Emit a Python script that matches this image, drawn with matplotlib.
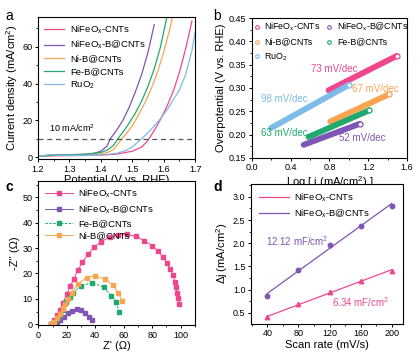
import matplotlib
matplotlib.use('Agg')
import matplotlib.pyplot as plt
import numpy as np
from matplotlib.lines import Line2D
from matplotlib.ticker import MultipleLocator

plt.rcParams['font.family'] = ['Liberation Sans', 'DejaVu Sans']
plt.rcParams['font.size'] = 6.5
plt.rcParams['axes.linewidth'] = 0.8
plt.rcParams['mathtext.default'] = 'regular'

PINK = '#f0468e'
PURPLE = '#7f55b5'
ORANGE = '#f9a451'
GREEN = '#1fa96c'
BLUE = '#7dbbe9'

# ---- panel a: LSV
v_nifeo = [1.20, 1.25, 1.30, 1.35, 1.40, 1.45, 1.50, 1.53, 1.55, 1.57, 1.59, 1.61, 1.63, 1.65, 1.67, 1.69]
j_nifeo = [0.5, 0.7, 0.8, 0.9, 1.1, 1.6, 3.2, 5.5, 9.0, 14.5, 20.5, 27.5, 35.5, 46.0, 59.0, 74.0]
v_nifeob = [1.20, 1.25, 1.30, 1.35, 1.38, 1.40, 1.42, 1.43, 1.45, 1.47, 1.49, 1.51, 1.53, 1.55, 1.57]
j_nifeob = [0.5, 1.2, 1.3, 1.6, 2.1, 3.2, 6.0, 10.0, 14.5, 20.0, 27.0, 35.5, 45.0, 57.0, 72.0]
v_nib = [1.20, 1.25, 1.30, 1.35, 1.40, 1.42, 1.44, 1.467, 1.48, 1.50, 1.52, 1.54, 1.56, 1.58, 1.60, 1.62, 1.63]
j_nib = [0.5, 0.8, 1.0, 1.2, 1.7, 2.5, 4.0, 10.0, 12.5, 17.0, 23.0, 29.5, 37.0, 46.0, 57.0, 70.0, 78.0]
v_feb = [1.20, 1.25, 1.30, 1.35, 1.40, 1.42, 1.44, 1.454, 1.47, 1.49, 1.51, 1.53, 1.55, 1.57, 1.59, 1.61]
j_feb = [0.5, 1.0, 1.2, 1.5, 2.5, 3.8, 6.3, 10.0, 13.5, 18.5, 24.0, 30.5, 38.5, 48.0, 60.0, 76.0]
v_ruo2 = [1.20, 1.24, 1.27, 1.30, 1.35, 1.40, 1.45, 1.48, 1.50, 1.53, 1.56, 1.59, 1.61, 1.63, 1.65, 1.67, 1.69, 1.70]
j_ruo2 = [0.5, 1.4, 0.9, 0.9, 1.0, 1.2, 2.0, 3.6, 5.5, 10.0, 15.0, 21.0, 25.5, 31.0, 36.5, 45.0, 58.0, 68.0]

# ---- panel b: Tafel (start, end)
tafel_names = ['NiFeO$_x$-CNTs', 'NiFeO$_x$-B@CNTs', 'Ni-B@CNTs', 'Fe-B@CNTs', 'RuO$_2$']
tafel_x = [[0.79, 1.496], [0.533, 1.11], [0.808, 1.41], [0.584, 1.21], [0.196, 1.004]]
tafel_y = [[0.295, 0.369], [0.178, 0.223], [0.228, 0.286], [0.195, 0.252], [0.214, 0.307]]
tafel_lbl = ['73 mV/dec', '52 mV/dec', '67 mV/dec', '63 mV/dec', '98 mV/dec']

# ---- panel c: Nyquist
zr_nifeo = [9, 11, 13, 15, 17.5, 20, 22.5, 25, 28, 31, 35, 39, 44, 50, 56, 62, 68.5, 74.5, 80, 84, 87.6, 90.4, 92.3, 94.6, 95.8, 96.5, 97.4, 98.1, 98.6]
zi_nifeo = [0, 1.5, 3.5, 5.5, 8.5, 12, 15, 18, 21.5, 24.5, 27.5, 30.3, 32.5, 34.3, 35.1, 35.4, 34.6, 32.9, 31, 28.7, 26.4, 24.1, 21.7, 19.5, 16.8, 14.6, 12.4, 10.3, 8.0]
zr_nifeob = [9, 11, 13, 15, 18, 21, 24, 27, 30, 33, 35.5, 37.5]
zi_nifeob = [0, 0.5, 1.0, 1.8, 3.0, 4.3, 5.3, 5.8, 5.5, 4.5, 3.0, 1.5]
zr_feb = [9, 11, 13, 15, 17, 19.5, 22, 24.2, 30, 37.8, 45.8, 51.2, 54.7, 56.5]
zi_feb = [0, 0.8, 2.0, 3.5, 5.5, 8.8, 10.8, 12.4, 15.1, 16.4, 14.6, 11.2, 8.9, 5.0]
zr_nib = [9, 11, 13, 15, 17, 19, 21, 23.5, 28, 34, 40, 46.5, 52.3, 56.3, 58.7]
zi_nib = [0, 1.0, 2.5, 4.0, 6.0, 8.0, 10.0, 12.5, 16.0, 18.4, 19.1, 17.9, 15.5, 12.2, 9.3]

# ---- panel d: Cdl
scan = [40, 80, 120, 160, 200]
dj_nifeo = [0.40, 0.69, 0.94, 1.19, 1.41]
dj_nifeob = [0.86, 1.43, 1.96, 2.38, 2.81]

fig = plt.figure(figsize=(4.2, 3.54), dpi=100)
axa = fig.add_axes([0.0905, 0.551, 0.374, 0.400])
axb = fig.add_axes([0.600, 0.554, 0.369, 0.395])
axc = fig.add_axes([0.0912, 0.082, 0.373, 0.407])
axd = fig.add_axes([0.5976, 0.085, 0.362, 0.3955])

for ax in (axa, axb, axc, axd):
  ax.tick_params(which='major', direction='out', length=2.5, width=0.7, pad=1.5, labelsize=6.5)
  ax.tick_params(which='minor', direction='out', length=1.5, width=0.6)

# a
axa.plot(v_nifeo, j_nifeo, color=PINK, lw=0.9, label='NiFeO$_x$-CNTs')
axa.plot(v_nifeob, j_nifeob, color=PURPLE, lw=0.9, label='NiFeO$_x$-B@CNTs')
axa.plot(v_nib, j_nib, color=ORANGE, lw=0.9, label='Ni-B@CNTs')
axa.plot(v_feb, j_feb, color=GREEN, lw=0.9, label='Fe-B@CNTs')
axa.plot(v_ruo2, j_ruo2, color=BLUE, lw=0.9, label='RuO$_2$')
axa.axhline(10, color='#555555', lw=0.9, ls=(0, (4, 3)))
axa.text(1.235, 16, '10 mA/cm$^2$', fontsize=6.5, va='center')
axa.set_xlim(1.2, 1.7)
axa.set_ylim(-1, 76)
axa.xaxis.set_major_locator(MultipleLocator(0.1))
axa.xaxis.set_minor_locator(MultipleLocator(0.05))
axa.yaxis.set_major_locator(MultipleLocator(20))
axa.yaxis.set_minor_locator(MultipleLocator(10))
axa.set_xlabel('Potential (V vs. RHE)', fontsize=8, labelpad=1)
axa.set_ylabel('Current density (mA/cm$^2$)', fontsize=8, labelpad=2)
axa.legend(loc='upper left', frameon=False, fontsize=6.8, handlelength=2.2,
           labelspacing=0.35, borderaxespad=0.2, handletextpad=0.6)

# b
cols = [PINK, PURPLE, ORANGE, GREEN, BLUE]
for xs, ys, c in zip(tafel_x, tafel_y, cols):
  axb.plot(xs, ys, color=c, lw=4.2, solid_capstyle='round')
  axb.plot(xs[1], ys[1], 'o', ms=3.6, mfc='white', mec=c, mew=0.9)
axb.text(0.845, 0.341, tafel_lbl[0], color=PINK, ha='center', va='center', fontsize=7)
axb.text(1.14, 0.192, tafel_lbl[1], color=PURPLE, ha='center', va='center', fontsize=7)
axb.text(1.27, 0.298, tafel_lbl[2], color=ORANGE, ha='center', va='center', fontsize=7)
axb.text(0.331, 0.204, tafel_lbl[3], color=GREEN, ha='center', va='center', fontsize=7)
axb.text(0.331, 0.277, tafel_lbl[4], color=BLUE, ha='center', va='center', fontsize=7)
hb = [Line2D([], [], ls='none', marker='o', ms=2.6, mfc='white', mec=c, mew=0.8) for c in cols]
order = [0, 2, 4, 1, 3]
axb.legend([hb[i] for i in order], [tafel_names[i] for i in order], ncol=2, loc='upper left',
           frameon=False, fontsize=6.4, handlelength=0.5, handletextpad=0.6,
           columnspacing=0.7, labelspacing=0.5, borderaxespad=0.05, borderpad=0.25)
axb.set_xlim(0, 1.6)
axb.set_ylim(0.15, 0.45)
axb.xaxis.set_major_locator(MultipleLocator(0.4))
axb.xaxis.set_minor_locator(MultipleLocator(0.2))
axb.yaxis.set_major_locator(MultipleLocator(0.05))
axb.yaxis.set_minor_locator(MultipleLocator(0.025))
axb.set_xlabel('Log [ j (mA/cm$^2$) ]', fontsize=8, labelpad=1)
axb.set_ylabel('Overpotential (V vs. RHE)', fontsize=8, labelpad=2)

# c
axc.plot(zr_nifeo, zi_nifeo, '-s', color=PINK, lw=0.7, ms=2.8, label='NiFeO$_x$-CNTs')
axc.plot(zr_nifeob, zi_nifeob, '-s', color=PURPLE, lw=0.7, ms=2.8, label='NiFeO$_x$-B@CNTs')
axc.plot(zr_feb, zi_feb, '--s', color=GREEN, lw=0.7, ms=2.8, dashes=(2.5, 1.5), label='Fe-B@CNTs')
axc.plot(zr_nib, zi_nib, '-s', color=ORANGE, lw=0.7, ms=2.8, label='Ni-B@CNTs')
axc.set_xlim(0, 110)
axc.set_ylim(-0.3, 56.5)
axc.xaxis.set_major_locator(MultipleLocator(20))
axc.xaxis.set_minor_locator(MultipleLocator(10))
axc.yaxis.set_major_locator(MultipleLocator(10))
axc.yaxis.set_minor_locator(MultipleLocator(5))
axc.set_xlabel("Z' (\u03a9)", fontsize=8, labelpad=1)
axc.set_ylabel("-Z'' (\u03a9)", fontsize=8, labelpad=2)
axc.legend(loc='upper left', frameon=False, fontsize=6.8, handlelength=3.0,
           labelspacing=0.35, borderaxespad=0.3, handletextpad=0.5)

# d
axd.plot(scan, dj_nifeo, '^', color=PINK, ms=3.2)
axd.plot(scan, dj_nifeob, 'o', color=PURPLE, ms=3.2)
xs = np.array([scan[0], scan[-1]])
p1 = np.polyfit(scan, dj_nifeo, 1)
p2 = np.polyfit(scan, dj_nifeob, 1)
axd.plot(xs, np.polyval(p1, xs), color=PINK, lw=0.9, label='NiFeO$_x$-CNTs')
axd.plot(xs, np.polyval(p2, xs), color=PURPLE, lw=0.9, label='NiFeO$_x$-B@CNTs')
axd.text(78, 2.05, '12.12 mF/cm$^2$', color=PURPLE, ha='center', va='center', fontsize=7)
axd.text(160, 0.72, '6.34 mF/cm$^2$', color=PINK, ha='center', va='center', fontsize=7)
axd.set_xlim(19, 214.5)
axd.set_ylim(0.26, 3.28)
axd.xaxis.set_major_locator(MultipleLocator(40))
axd.xaxis.set_minor_locator(MultipleLocator(20))
axd.yaxis.set_major_locator(MultipleLocator(0.5))
axd.yaxis.set_minor_locator(MultipleLocator(0.25))
axd.set_xlabel('Scan rate (mV/s)', fontsize=8, labelpad=1)
axd.set_ylabel('\u0394j (mA/cm$^2$)', fontsize=8, labelpad=2)
axd.legend(loc='upper left', frameon=False, fontsize=6.8, handlelength=3.2,
           labelspacing=0.35, borderaxespad=0.4, handletextpad=0.6)

fig.text(0.012, 0.975, 'a', fontsize=10, va='top')
fig.text(0.507, 0.975, 'b', fontsize=10, va='top')
fig.text(0.012, 0.492, 'c', fontsize=10, va='top', weight='bold')
fig.text(0.507, 0.492, 'd', fontsize=10, va='top', weight='bold')

fig.savefig('out.png', dpi=100)
